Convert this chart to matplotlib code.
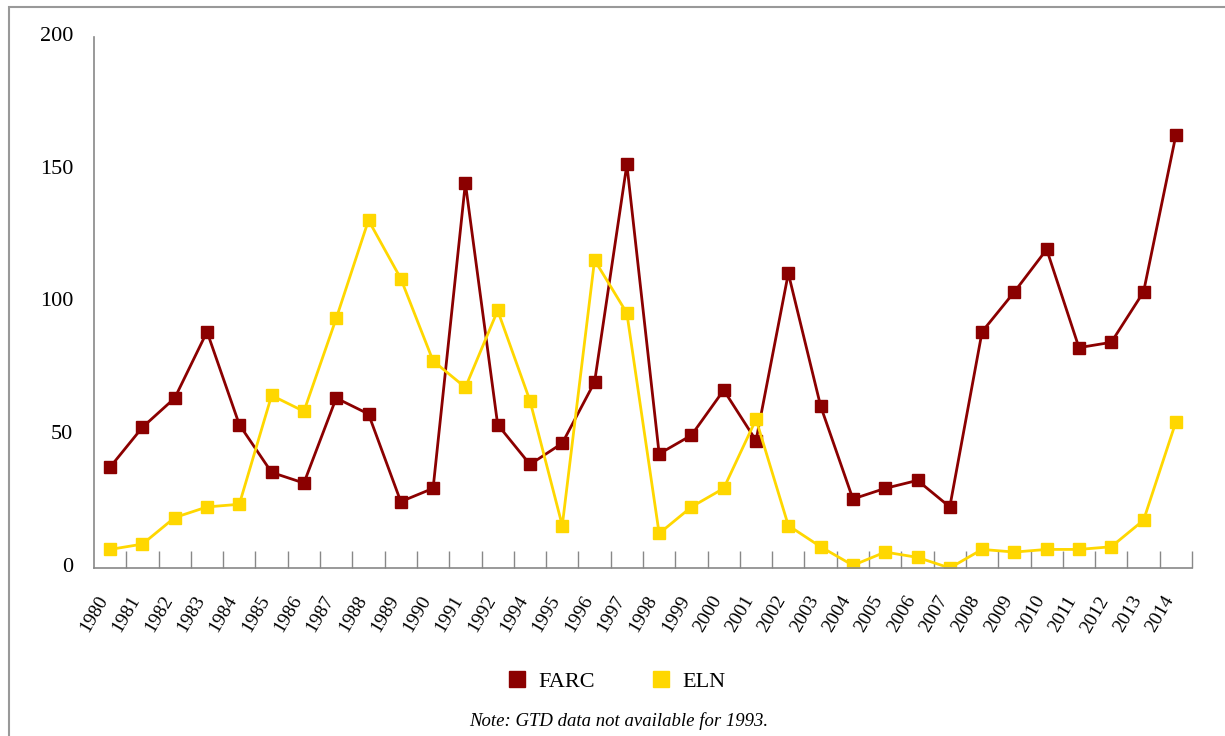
import matplotlib
matplotlib.use("Agg")
import matplotlib.pyplot as plt
from matplotlib.patches import Rectangle
from matplotlib.transforms import ScaledTranslation

plt.rcParams["font.family"] = ["Liberation Serif", "DejaVu Serif"]

# attacks per year (GTD); no data for 1993
years = ["1980", "1981", "1982", "1983", "1984", "1985", "1986", "1987", "1988",
         "1989", "1990", "1991", "1992", "1994", "1995", "1996", "1997", "1998",
         "1999", "2000", "2001", "2002", "2003", "2004", "2005", "2006", "2007",
         "2008", "2009", "2010", "2011", "2012", "2013", "2014"]
farc = [38, 53, 64, 89, 54, 36, 32, 64, 58, 25, 30, 145, 54, 39, 47, 70, 152, 43,
        50, 67, 48, 111, 61, 26, 30, 33, 23, 89, 104, 120, 83, 85, 104, 163]
eln = [7, 9, 19, 23, 24, 65, 59, 94, 131, 109, 78, 68, 97, 63, 16, 116, 96, 13,
       23, 30, 56, 16, 8, 1, 6, 4, 0, 7, 6, 7, 7, 8, 18, 55]
y_ticks = [0, 50, 100, 150, 200]

FARC_COLOR = "#8b0000"
ELN_COLOR = "#ffd700"
AXIS_GREY = "#888888"

fig = plt.figure(figsize=(12.25, 7.36), dpi=100)
ax = fig.add_axes([94 / 1225, 1 - 568 / 736, 1098 / 1225, 531 / 736])

x = list(range(len(years)))
ax.plot(x, farc, color=FARC_COLOR, lw=2.0, marker="s", ms=9, label="FARC")
ax.plot(x, eln, color=ELN_COLOR, lw=2.0, marker="s", ms=9, label="ELN")

ax.set_xlim(-0.5, len(years) - 0.5)
ax.set_ylim(0, 200)

# category labels at centres, tick marks between categories
ax.set_xticks(x)
ax.set_xticklabels(years, rotation=60, ha="right", va="center",
                   rotation_mode="anchor", fontsize=14)
ax.tick_params(axis="x", which="major", length=0, pad=21)
ax.set_xticks([i + 0.5 for i in x], minor=True)
ax.tick_params(axis="x", which="minor", direction="in", length=12,
               width=1, color=AXIS_GREY)

ax.set_yticks(y_ticks)
ax.set_yticklabels([str(v) for v in y_ticks], fontsize=16)
ax.tick_params(axis="y", length=0, pad=15)

# small nudges so the labels sit where the original has them
shift_x = ScaledTranslation(-6 / 100, 0, fig.dpi_scale_trans)
for lab in ax.get_xticklabels():
    lab.set_transform(lab.get_transform() + shift_x)
shift_y = ScaledTranslation(0, 3 / 100, fig.dpi_scale_trans)
for lab in ax.get_yticklabels():
    lab.set_transform(lab.get_transform() + shift_y)

for side in ("top", "right"):
    ax.spines[side].set_visible(False)
for side in ("left", "bottom"):
    ax.spines[side].set_color(AXIS_GREY)
    ax.spines[side].set_linewidth(1.2)

# legend below the plot
leg = fig.legend(handles=ax.get_lines(), labels=["FARC", "ELN"],
                 loc="center", bbox_to_anchor=(618 / 1225, 1 - 682 / 736),
                 ncol=2, frameon=False, fontsize=16, handlelength=0.6,
                 columnspacing=2.7, handletextpad=0.65)
for h in leg.legend_handles:
    h.set_linestyle("none")
    h.set_markersize(12)

fig.text(619 / 1225, 1 - 721 / 736, "Note: GTD data not available for 1993.",
         ha="center", va="center", fontsize=13.5, style="italic")

# grey frame round the chart
fig.patches.append(Rectangle((9 / 1225, -0.05), 1.0, 1 - 7 / 736 + 0.05,
                             transform=fig.transFigure, fill=False,
                             edgecolor="#999999", lw=1.5))

fig.savefig("out.png", dpi=100)
